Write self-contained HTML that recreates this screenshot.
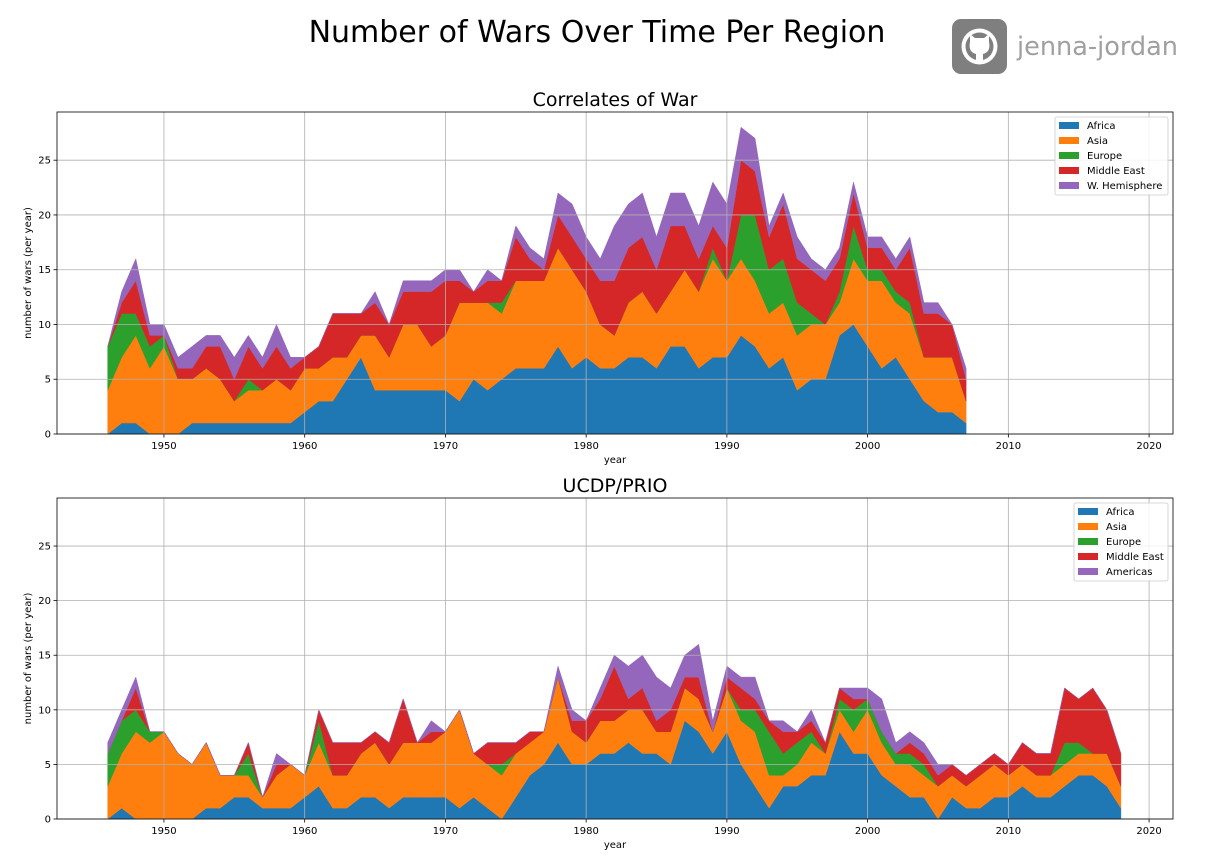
<!DOCTYPE html>
<html><head><meta charset="utf-8"><style>
body{margin:0;background:#fff;}
svg{display:block;font-family:"DejaVu Sans","Liberation Sans",sans-serif;}
</style></head><body>
<svg id="fig" width="1212" height="868" viewBox="0 0 1212 868">
<text x="597" y="42" font-size="30" text-anchor="middle" fill="#000">Number of Wars Over Time Per Region</text>
<g>
<rect x="952" y="19" width="55" height="55" rx="9" fill="#7f7f7f"/>
<circle cx="979.5" cy="46.5" r="18" fill="#fff"/>
<circle cx="979.5" cy="46.5" r="14" fill="#7f7f7f"/>
<path d="M970 42 L970 34 L975 38 L984 38 L989 34 L989 42 Q991 52 983 54 L983 62 L976 62 L976 54 Q968 52 970 42Z" fill="#fff"/>
<text x="1017" y="55" font-size="26" fill="#a0a0a0" textLength="161" lengthAdjust="spacingAndGlyphs">jenna-jordan</text>
</g>
<g id="c1"></g>
<g id="c2"></g>
</svg>
<script>
const colors=["#1f77b4","#ff7f0e","#2ca02c","#d62728","#9467bd"];
const cowYears=[1946,1947,1948,1949,1950,1951,1952,1953,1954,1955,1956,1957,1958,1959,1960,1961,1962,1963,1964,1965,1966,1967,1968,1969,1970,1971,1972,1973,1974,1975,1976,1977,1978,1979,1980,1981,1982,1983,1984,1985,1986,1987,1988,1989,1990,1991,1992,1993,1994,1995,1996,1997,1998,1999,2000,2001,2002,2003,2004,2005,2006,2007];
const cowAfrica=[0,1,1,0,0,0,1,1,1,1,1,1,1,1,2,3,3,5,7,4,4,4,4,4,4,3,5,4,5,6,6,6,8,6,7,6,6,7,7,6,8,8,6,7,7,9,8,6,7,4,5,5,9,10,8,6,7,5,3,2,2,1];
const cowAsia=[4,6,8,6,8,5,4,5,4,2,3,3,4,3,4,3,4,2,2,5,3,6,6,4,5,9,7,8,6,8,8,8,9,9,6,4,3,5,6,5,5,7,7,9,7,7,6,5,5,5,5,5,3,6,6,8,5,6,4,5,5,2];
const cowEurope=[4,4,2,2,1,0,0,0,0,0,1,0,0,0,0,0,0,0,0,0,0,0,0,0,0,0,0,0,1,0,0,0,0,0,0,0,0,0,0,0,0,0,0,1,0,4,6,4,4,3,1,0,1,3,1,1,1,1,0,0,0,0];
const cowMidEast=[0,1,3,1,0,1,1,2,3,2,3,2,3,2,1,2,4,4,2,3,3,3,3,5,5,2,1,2,2,4,2,1,3,3,3,4,5,5,5,4,6,4,3,2,3,5,4,3,5,4,4,4,3,3,2,2,2,5,4,4,3,2];
const cowWHem=[0,1,2,1,1,1,2,1,1,2,1,1,2,1,0,0,0,0,0,1,0,1,1,1,1,1,0,1,0,1,1,1,2,3,2,2,5,4,4,3,3,3,3,4,4,3,3,1,1,2,1,1,1,1,1,1,1,1,1,1,0,1];
const ucdpYears=[1946,1947,1948,1949,1950,1951,1952,1953,1954,1955,1956,1957,1958,1959,1960,1961,1962,1963,1964,1965,1966,1967,1968,1969,1970,1971,1972,1973,1974,1975,1976,1977,1978,1979,1980,1981,1982,1983,1984,1985,1986,1987,1988,1989,1990,1991,1992,1993,1994,1995,1996,1997,1998,1999,2000,2001,2002,2003,2004,2005,2006,2007,2008,2009,2010,2011,2012,2013,2014,2015,2016,2017,2018];
const ucdpAfrica=[0,1,0,0,0,0,0,1,1,2,2,1,1,1,2,3,1,1,2,2,1,2,2,2,2,1,2,1,0,2,4,5,7,5,5,6,6,7,6,6,5,9,8,6,8,5,3,1,3,3,4,4,8,6,6,4,3,2,2,0,2,1,1,2,2,3,2,2,3,4,4,3,1];
const ucdpAsia=[3,5,8,7,8,6,5,6,3,2,2,1,3,4,2,4,3,3,4,5,4,5,5,5,6,9,4,4,4,4,3,3,6,3,2,3,3,3,4,2,3,3,3,2,4,4,5,3,1,2,3,2,2,2,4,3,2,3,2,3,2,2,3,3,2,2,2,2,2,2,2,3,2];
const ucdpEurope=[3,3,2,1,0,0,0,0,0,0,2,0,0,0,0,2,0,0,0,0,0,0,0,0,0,0,0,0,1,0,0,0,0,0,0,0,0,0,0,0,0,0,0,0,0,1,2,4,2,2,1,0,1,2,1,1,1,1,1,0,0,0,0,0,0,0,0,0,2,1,0,0,0];
const ucdpMidEast=[0,0,2,0,0,0,0,0,0,0,1,0,1,0,0,1,3,3,1,1,2,4,0,1,0,0,0,2,2,1,1,0,0,1,2,2,5,1,2,1,2,1,2,0,1,2,1,1,2,1,1,1,1,1,0,0,0,1,1,1,1,1,1,1,1,2,2,2,5,4,6,4,3];
const ucdpAmericas=[1,1,1,0,0,0,0,0,0,0,0,0,1,0,0,0,0,0,0,0,0,0,0,1,0,0,0,0,0,0,0,0,1,1,0,1,1,3,3,4,2,2,3,1,1,1,2,0,1,0,1,0,0,1,1,3,1,1,1,1,0,0,0,0,0,0,0,0,0,0,0,0,0];
const cowLabels=["Africa","Asia","Europe","Middle East","W. Hemisphere"];
const ucdpLabels=["Africa","Asia","Europe","Middle East","Americas"];
const xTicks=[1950,1960,1970,1980,1990,2000,2010,2020];
const yTicks=[0,5,10,15,20,25];

const NS="http://www.w3.org/2000/svg";
function mk(tag,attrs,parent){const e=document.createElementNS(NS,tag);for(const k in attrs)e.setAttribute(k,attrs[k]);parent.appendChild(e);return e;}
const L=57,R=1173,XMIN=1942.4,XMAX=2021.7,YMAX=29.4;
function xs(yr){return L+(yr-XMIN)/(XMAX-XMIN)*(R-L);}

function drawChart(g,top,bottom,title,years,series,labels,legX,legW){
  function ys(v){return bottom-v/YMAX*(bottom-top);}
  const t=mk('text',{x:615,y:top-6,'font-size':19,'text-anchor':'middle',fill:'#000'},g);t.textContent=title;
  
  
  let base=years.map(()=>0);
  series.forEach((s,si)=>{
    const topv=base.map((b,i)=>b+s[i]);
    let d='';
    years.forEach((yr,i)=>{d+=(i?'L':'M')+xs(yr).toFixed(1)+' '+ys(topv[i]).toFixed(1);});
    for(let i=years.length-1;i>=0;i--)d+='L'+xs(years[i]).toFixed(1)+' '+ys(base[i]).toFixed(1);
    const p=mk('path',{d:d+'Z',fill:colors[si],stroke:colors[si],'stroke-width':0.5},g);
    
    
    base=topv;
  });
  xTicks.forEach(v=>{const x=xs(v);
    const gl=mk('line',{x1:x,x2:x,y1:top,y2:bottom,stroke:'#b0b0b0','stroke-width':0.8},g);
    
    
    mk('line',{x1:x,x2:x,y1:bottom,y2:bottom+3.5,stroke:'#000','stroke-width':0.8},g);
    const tx=mk('text',{x:x,y:bottom+15,'font-size':10,'text-anchor':'middle',fill:'#000'},g);tx.textContent=v;
    
    });
  yTicks.forEach(v=>{const y=ys(v);
    const gl=mk('line',{x1:L,x2:R,y1:y,y2:y,stroke:'#b0b0b0','stroke-width':0.8},g);
    
    
    mk('line',{x1:L-3.5,x2:L,y1:y,y2:y,stroke:'#000','stroke-width':0.8},g);
    const tx=mk('text',{x:L-6,y:y+3.5,'font-size':10,'text-anchor':'end',fill:'#000'},g);tx.textContent=v;
    
    });
  const fr=mk('rect',{x:L,y:top,width:R-L,height:bottom-top,fill:'none',stroke:'#000','stroke-width':0.8},g);
  
  
  const xl=mk('text',{x:615,y:bottom+29,'font-size':10,'text-anchor':'middle',fill:'#000'},g);xl.textContent='year';
  
  
  const cy=(top+bottom)/2;
  const yl=mk('text',{x:31,y:cy,'font-size':10,'text-anchor':'middle',fill:'#000',transform:'rotate(-90 31 '+cy+')'},g);yl.textContent='number of wars (per year)';
  
  
  const lg=mk('g',{},g);
  
  
  mk('rect',{x:legX,y:top+5,width:legW,height:78,rx:2,fill:'#fff','fill-opacity':0.85,stroke:'#ccc','stroke-width':0.8},lg);
  labels.forEach((lab,i)=>{
    const ey=top+13+i*15;
    const it=mk('g',{},lg);
    
    
    mk('rect',{x:legX+4,y:ey-3,width:20,height:7,fill:colors[i]},it);
    const tt=mk('text',{x:legX+32,y:ey+4,'font-size':10,fill:'#000'},it);tt.textContent=lab;
  });
}
drawChart(document.getElementById('c1'),112,434,'Correlates of War',cowYears,[cowAfrica,cowAsia,cowEurope,cowMidEast,cowWHem],cowLabels,1055,113);
drawChart(document.getElementById('c2'),498,819,'UCDP/PRIO',ucdpYears,[ucdpAfrica,ucdpAsia,ucdpEurope,ucdpMidEast,ucdpAmericas],ucdpLabels,1074,94);
</script>
</body></html>
